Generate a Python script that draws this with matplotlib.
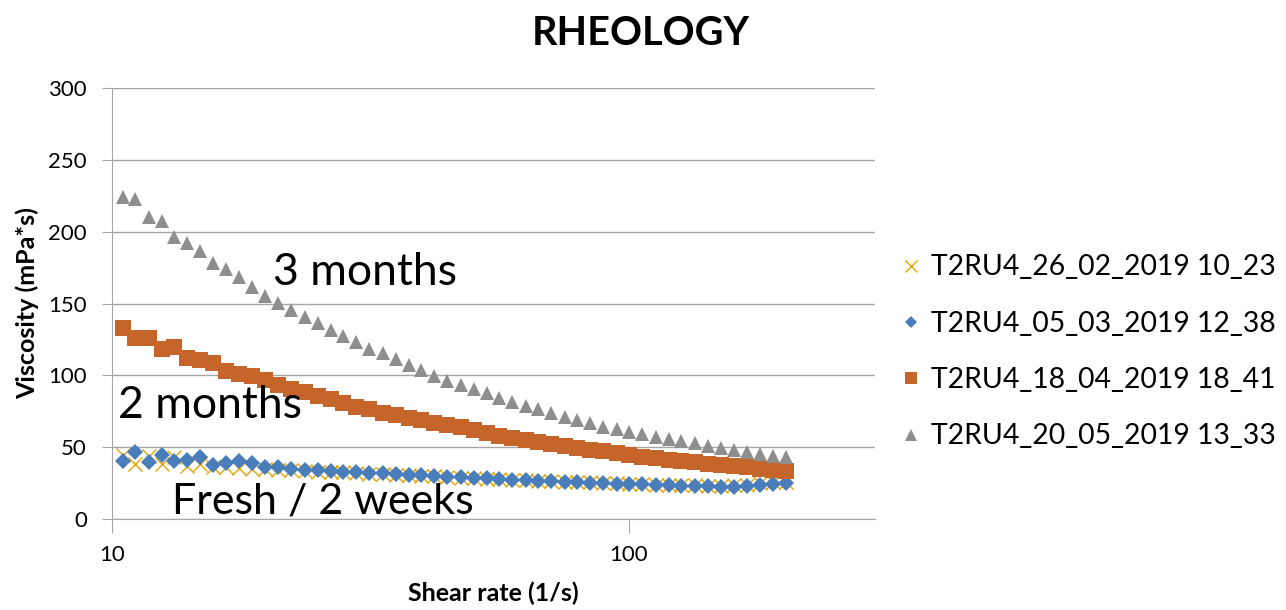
import matplotlib

matplotlib.use("Agg")
import matplotlib.pyplot as plt
from matplotlib.ticker import FixedLocator, NullLocator

plt.rcParams["font.family"] = ["Lato", "DejaVu Sans"]

# shear rate steps (1/s), shared by all four runs
shear_rate = [
    10.5, 11.1, 11.8, 12.5, 13.2, 14.0, 14.8, 15.7, 16.6, 17.6,
    18.7, 19.8, 21.0, 22.2, 23.6, 25.0, 26.5, 28.0, 29.7, 31.5,
    33.4, 35.4, 37.5, 39.7, 42.1, 44.6, 47.3, 50.1, 53.1, 56.2,
    59.6, 63.2, 66.9, 70.9, 75.2, 79.6, 84.4, 89.4, 94.8, 100.4,
    106.4, 112.8, 119.5, 126.6, 134.2, 142.2, 150.7, 159.7, 169.2, 179.3,
    190.0, 201.4,
]

visc_26_02 = [
    44.5, 38.0, 43.5, 38.0, 43.0, 37.0, 38.0, 36.5, 36.0, 35.5,
    35.0, 34.6, 34.2, 33.8, 33.4, 33.0, 32.8, 32.4, 32.0, 31.6,
    31.2, 30.8, 30.4, 30.0, 29.6, 29.2, 28.8, 28.4, 28.1, 27.7,
    27.3, 27.0, 26.6, 26.3, 26.0, 25.7, 25.4, 25.1, 24.8, 24.6,
    24.3, 24.0, 23.8, 23.6, 23.4, 23.3, 23.3, 23.5, 24.0, 24.8,
    25.5, 26.0,
]

visc_05_03 = [
    40.6, 46.9, 39.9, 44.5, 40.6, 41.0, 42.9, 37.6, 38.7, 40.6,
    38.7, 36.4, 35.9, 35.0, 34.1, 34.0, 33.5, 33.0, 32.6, 32.2,
    31.7, 31.3, 30.8, 30.3, 29.9, 29.5, 29.1, 28.7, 28.3, 27.8,
    27.4, 27.0, 26.6, 26.3, 26.0, 25.6, 25.3, 25.0, 24.7, 24.4,
    24.1, 23.8, 23.5, 23.2, 23.0, 22.8, 22.6, 22.6, 22.8, 23.4,
    24.2, 24.8,
]

visc_18_04 = [
    132.7, 125.9, 125.9, 118.6, 119.7, 111.8, 111.0, 108.3, 102.9, 101.0,
    99.4, 96.7, 93.4, 90.7, 88.6, 85.6, 83.3, 80.5, 78.2, 76.3,
    74.0, 72.4, 70.5, 68.9, 67.0, 65.4, 63.8, 61.9, 59.6, 57.8,
    56.3, 54.9, 53.5, 52.1, 50.8, 49.5, 48.2, 47.0, 45.8, 44.6,
    43.4, 42.3, 41.2, 40.2, 39.4, 38.5, 37.6, 36.8, 36.0, 35.1,
    34.2, 33.2,
]

visc_20_05 = [
    224.4, 222.7, 210.4, 207.4, 196.5, 192.3, 186.5, 178.0, 174.0, 168.2,
    161.3, 155.2, 150.1, 145.5, 140.8, 136.2, 131.6, 127.6, 123.4, 118.1,
    115.3, 111.1, 107.2, 103.7, 99.5, 96.3, 93.5, 90.3, 87.5, 84.0,
    81.7, 78.7, 76.3, 74.0, 70.8, 68.9, 66.6, 64.3, 62.6, 60.3,
    58.9, 57.3, 55.5, 54.3, 52.7, 51.0, 49.2, 48.0, 46.9, 45.2,
    44.1, 43.4,
]

series = [
    ("T2RU4_26_02_2019 10_23", visc_26_02, "x", "#E2A400", 10, 1.0),
    ("T2RU4_05_03_2019 12_38", visc_05_03, "D", "#4A7EBB", 8, 0),
    ("T2RU4_18_04_2019 18_41", visc_18_04, "s", "#C5652A", 11, 0),
    ("T2RU4_20_05_2019 13_33", visc_20_05, "^", "#8E8E8E", 10.5, 0),
]

grid_col = "#A6A6A6"

fig = plt.figure(figsize=(12.86, 6.10), dpi=100)
ax = fig.add_axes([0.0871, 0.1492, 0.5933, 0.7065])

handles = []
for label, vals, mk, col, ms, mew in series:
    (h,) = ax.plot(
        shear_rate, vals, linestyle="none", marker=mk, color=col,
        markersize=ms, markeredgewidth=mew, label=label,
    )
    handles.append(h)

ax.set_xscale("log")
ax.set_xlim(10, 300)
ax.set_ylim(0, 300)
ax.xaxis.set_major_locator(FixedLocator([10, 100]))
ax.xaxis.set_minor_locator(NullLocator())
ax.set_xticklabels(["10", "100"])
ax.set_yticks(range(0, 301, 50))

ax.grid(axis="y", color=grid_col, linewidth=1)
ax.set_axisbelow(True)
for side in ("top", "right"):
    ax.spines[side].set_visible(False)
for side in ("left", "bottom"):
    ax.spines[side].set_color(grid_col)
ax.tick_params(axis="y", length=7, color=grid_col, labelsize=16, pad=11)
ax.tick_params(axis="x", length=10, color=grid_col, labelsize=16, pad=9)

ax.set_xlabel("Shear rate (1/s)", fontsize=18, fontweight="bold")
ax.set_ylabel("Viscosity (mPa*s)", fontsize=18, fontweight="bold")
ax.xaxis.set_label_coords(0.5, -0.145)
ax.yaxis.set_label_coords(-0.095, 0.5)
fig.suptitle("RHEOLOGY", x=0.498, y=0.975, fontsize=28.5, fontweight="bold")

# age labels next to each group of curves
ax.text(20.5, 163, "3 months", fontsize=32, va="baseline")
ax.text(10.27, 70.3, "2 months", fontsize=32, va="baseline")
ax.text(13.07, 3.5, "Fresh / 2 weeks", fontsize=31, va="baseline")

fig.legend(
    handles=handles, loc="center left", bbox_to_anchor=(0.680, 0.423),
    frameon=False, fontsize=20.4, handlelength=0.8, handletextpad=0.3,
    labelspacing=1.07, markerscale=0.8,
)

fig.savefig("out.png", dpi=100)
